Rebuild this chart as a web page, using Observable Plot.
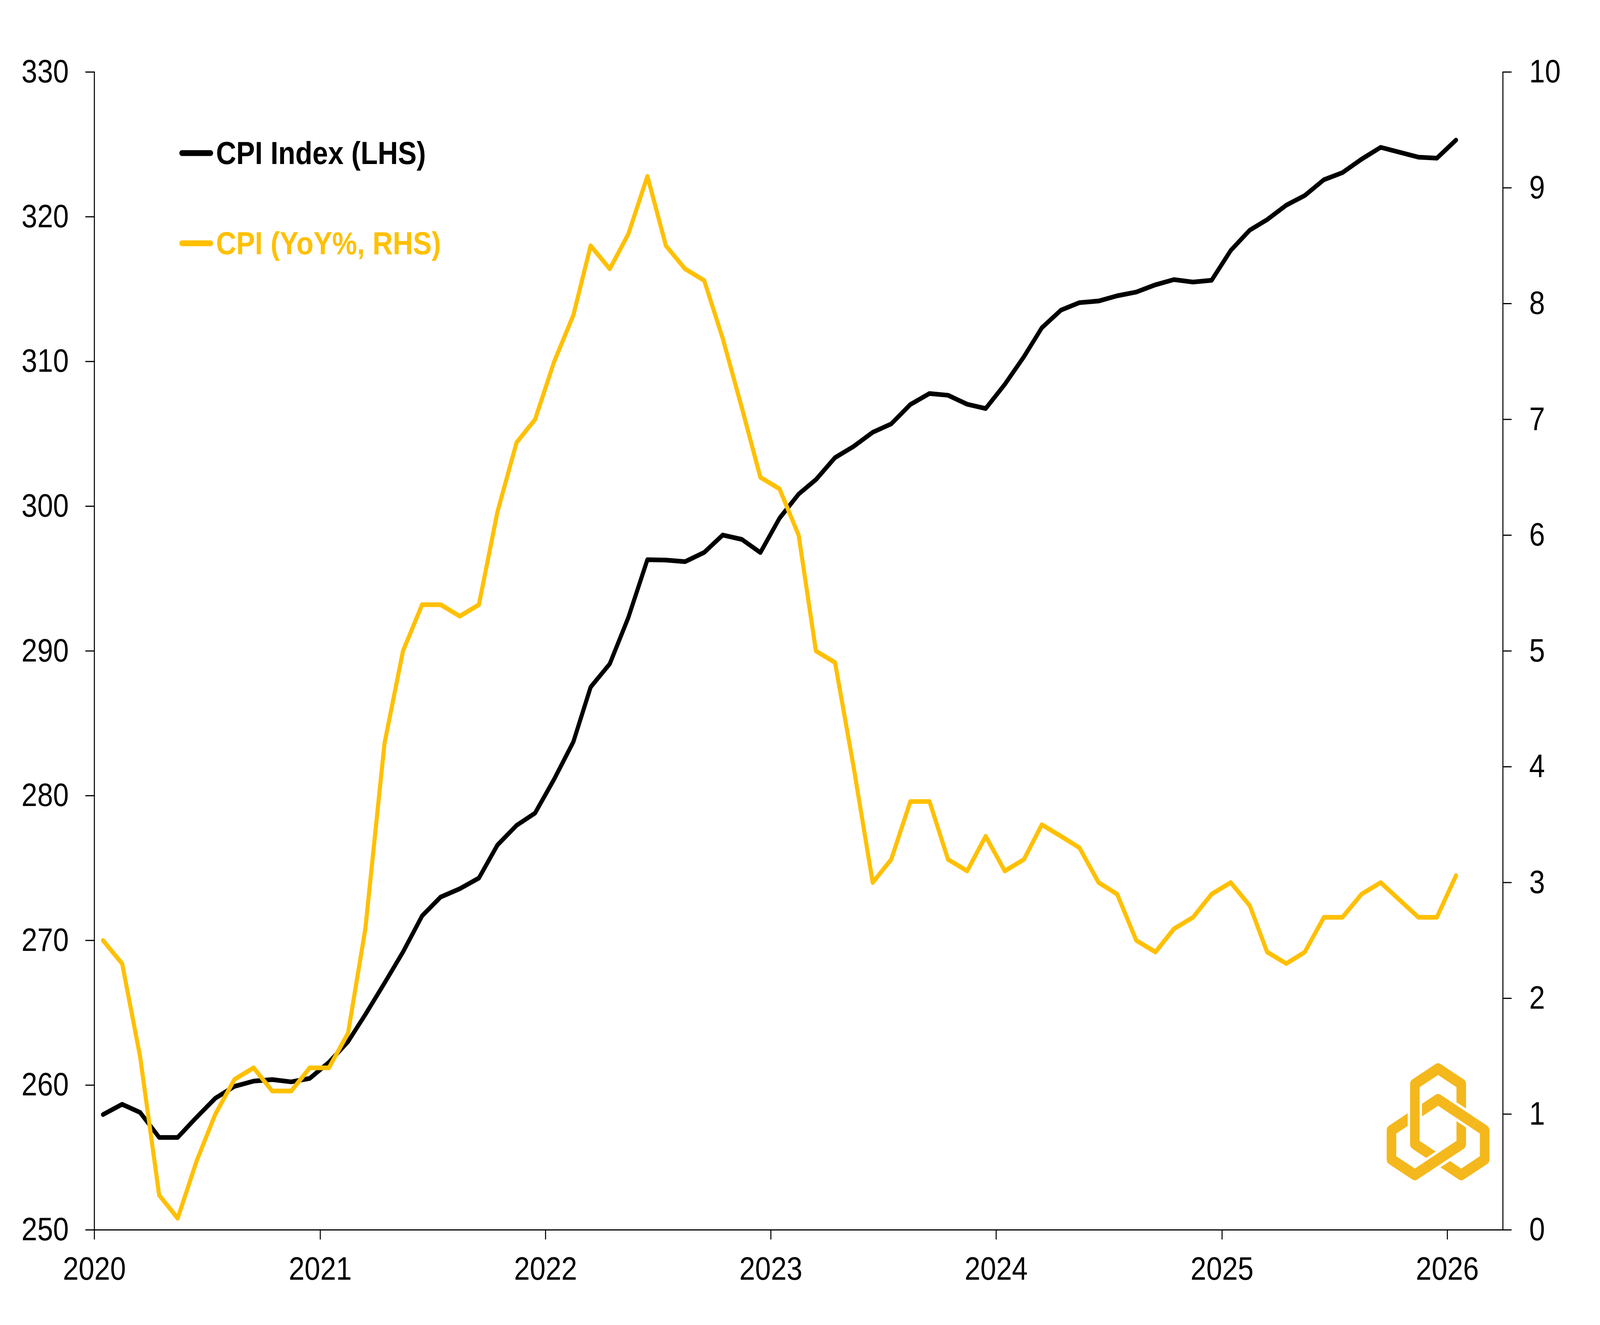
<!DOCTYPE html>
<html>
<head>
<meta charset="utf-8">
<script src="https://cdn.jsdelivr.net/npm/d3@7"></script>
<script src="https://cdn.jsdelivr.net/npm/@observablehq/plot@0.6"></script>
<style>
  html, body { margin: 0; padding: 0; background: #fff; overflow: hidden; }
  #wrap { position: absolute; left: 0; top: 0; width: 4688px; height: 3393px; transform-origin: 0 0; }
  #wrap > svg { position: absolute; left: 0; top: 0; }
  #overlay { pointer-events: none; }
</style>
</head>
<body>
<div id="wrap"></div>
<script>
// ---------- DATA ----------
const firstMonth = "2020-01";
const lastMonth = "2026-01";
// CPI index (LHS), monthly Jan 2020 .. Jan 2026 (Oct 2025 not published)
const cpiIndex = [
  257.97, 258.68, 258.12, 256.39, 256.39, 257.80, 259.10, 259.92, 260.28, 260.39, 260.23, 260.47,
  261.58, 263.01, 264.88, 267.05, 269.20, 271.70, 273.00, 273.57, 274.31, 276.59, 277.95, 278.80,
  281.15, 283.72, 287.50, 289.11, 292.30, 296.31, 296.28, 296.17, 296.81, 298.01, 297.71, 296.80,
  299.17, 300.84, 301.84, 303.36, 304.13, 305.11, 305.69, 307.03, 307.79, 307.67, 307.05, 306.75,
  308.42, 310.33, 312.33, 313.55, 314.07, 314.18, 314.54, 314.80, 315.30, 315.66, 315.49, 315.61,
  317.67, 319.08, 319.80, 320.80, 321.47, 322.56, 323.05, 323.98, 324.80, null, 324.12, 324.05,
  325.30
];
// CPI YoY % (RHS)
const cpiYoY = [
  2.5, 2.3, 1.5, 0.3, 0.1, 0.6, 1.0, 1.3, 1.4, 1.2, 1.2, 1.4,
  1.4, 1.7, 2.6, 4.2, 5.0, 5.4, 5.4, 5.3, 5.4, 6.2, 6.8, 7.0,
  7.5, 7.9, 8.5, 8.3, 8.6, 9.1, 8.5, 8.3, 8.2, 7.7, 7.1, 6.5,
  6.4, 6.0, 5.0, 4.9, 4.0, 3.0, 3.2, 3.7, 3.7, 3.2, 3.1, 3.4,
  3.1, 3.2, 3.5, 3.4, 3.3, 3.0, 2.9, 2.5, 2.4, 2.6, 2.7, 2.9,
  3.0, 2.8, 2.4, 2.3, 2.4, 2.7, 2.7, 2.9, 3.0, null, 2.7, 2.7,
  3.06
];
const seriesNames = ["CPI Index (LHS)", "CPI (YoY%, RHS)"];
const seriesColors = ["#000000", "#FFC000"];
const yearTicks = [2020, 2021, 2022, 2023, 2024, 2025, 2026];
const leftTicks = [250, 260, 270, 280, 290, 300, 310, 320, 330];
const rightTicks = [0, 1, 2, 3, 4, 5, 6, 7, 8, 9, 10];
const lhsDomain = [250, 330];
const rhsDomain = [0, 10];
const xDomain = ["2020-01-01", "2026-04-01"];

// ---------- PREP ----------
const W = 4688, H = 3393;
const parseMonth = d3.utcParse("%Y-%m");
const parseDay = d3.utcParse("%Y-%m-%d");
const months = d3.utcMonth.range(parseMonth(firstMonth), d3.utcMonth.offset(parseMonth(lastMonth), 1));
const mid = m => d3.utcDay.offset(m, 14);
const cpiRows = months.map((m, i) => ({date: mid(m), value: cpiIndex[i]})).filter(d => d.value != null);
const yoyRows = months.map((m, i) => ({date: mid(m), value: cpiYoY[i]})).filter(d => d.value != null);
const k = (lhsDomain[1] - lhsDomain[0]) / (rhsDomain[1] - rhsDomain[0]);
const rhsToLhs = v => lhsDomain[0] + (v - rhsDomain[0]) * k;
const lhsToRhs = v => rhsDomain[0] + (v - lhsDomain[0]) / k;

const FONT = "'Liberation Sans', Arial, Helvetica, sans-serif";

const chart = Plot.plot({
  width: W,
  height: H,
  marginLeft: 276,
  marginRight: 285,
  marginTop: 184,
  marginBottom: 244,
  style: {background: "white", fontFamily: FONT, fontSize: "83px", color: "#000", maxWidth: "none"},
  x: {type: "utc", domain: xDomain.map(parseDay)},
  y: {domain: lhsDomain, label: null},
  marks: [
    Plot.frame({anchor: "left", strokeWidth: 3}),
    Plot.frame({anchor: "right", strokeWidth: 3}),
    Plot.frame({anchor: "bottom", strokeWidth: 3}),
    Plot.axisY(leftTicks, {anchor: "left", tickSize: 26, tickPadding: 49, strokeWidth: 3, fontSize: 83, label: null, tickFormat: d => String(d)}),
    Plot.axisY(rightTicks.map(rhsToLhs), {anchor: "right", tickSize: 25, tickPadding: 52, strokeWidth: 3, fontSize: 83, label: null,
      tickFormat: v => String(Math.round(lhsToRhs(v)))}),
    Plot.axisX(yearTicks.map(y => new Date(Date.UTC(y, 0, 1))), {anchor: "bottom", tickSize: 25, tickPadding: 44, strokeWidth: 3, fontSize: 83, label: null,
      tickFormat: d3.utcFormat("%Y")}),
    Plot.line(cpiRows, {x: "date", y: "value", stroke: seriesColors[0], strokeWidth: 12, strokeLinejoin: "round", strokeLinecap: "round"}),
    Plot.line(yoyRows, {x: "date", y: d => rhsToLhs(d.value), stroke: seriesColors[1], strokeWidth: 12, strokeLinejoin: "round", strokeLinecap: "round"})
  ]
});

const wrap = document.getElementById("wrap");
wrap.appendChild(chart);

// fit the 4688x3393 design into whatever viewport the page gets
const sx = (window.innerWidth || W) / W;
const sy = (window.innerHeight || H) / H;
wrap.style.transform = `scale(${sx}, ${sy})`;

// ---------- OVERLAY: legend + logo ----------
const ov = d3.select(wrap).append("svg")
  .attr("id", "overlay")
  .attr("width", W).attr("height", H);

const legendY = [392, 623];
seriesNames.forEach((name, i) => {
  ov.append("line")
    .attr("x1", 533).attr("x2", 617)
    .attr("y1", legendY[i]).attr("y2", legendY[i])
    .attr("stroke", seriesColors[i]).attr("stroke-width", 15).attr("stroke-linecap", "round");
  ov.append("text")
    .attr("x", 633).attr("y", legendY[i] + 28)
    .attr("fill", seriesColors[i])
    .attr("font-family", FONT).attr("font-weight", "bold").attr("font-size", 82)
    .text(name);
});

// Logo: interlaced hexagonal knot
const logoColor = "#F4B81C";
const cx = 4213.5, cy = 2872.6;
const rel = [[0,-136],[68,-96.6],[68,57],[-68,135.9],[-136.5,96.2],[-136.5,22],[0,-57.2],[136.5,22],[136.5,96.2],[68,135.9],[-68,57],[-68,-96.6]];
const pts = rel.map(([a, b]) => [cx + a, cy + b]);
const g = ov.append("g");
g.append("path")
  .attr("d", "M" + pts.map(p => p.join(",")).join("L") + "Z")
  .attr("fill", "none").attr("stroke", logoColor).attr("stroke-width", 28).attr("stroke-linejoin", "round");
const overs = [
  [2, 3, [0, 96.45]],
  [10, 11, [-68, -17.7]],
  [6, 7, [68, -17.7]]
];
overs.forEach(([i0, i1, c]) => {
  const p0 = pts[i0], p1 = pts[i1];
  const dx = p1[0] - p0[0], dy = p1[1] - p0[1];
  const L = Math.hypot(dx, dy);
  const ux = dx / L, uy = dy / L;
  const X = cx + c[0], Y = cy + c[1], h = 45;
  const seg = sel => sel.attr("x1", X - ux * h).attr("y1", Y - uy * h).attr("x2", X + ux * h).attr("y2", Y + uy * h).attr("stroke-linecap", "butt");
  seg(g.append("line")).attr("stroke", "#fff").attr("stroke-width", 42);
  seg(g.append("line")).attr("stroke", logoColor).attr("stroke-width", 28);
});
</script>
</body>
</html>
